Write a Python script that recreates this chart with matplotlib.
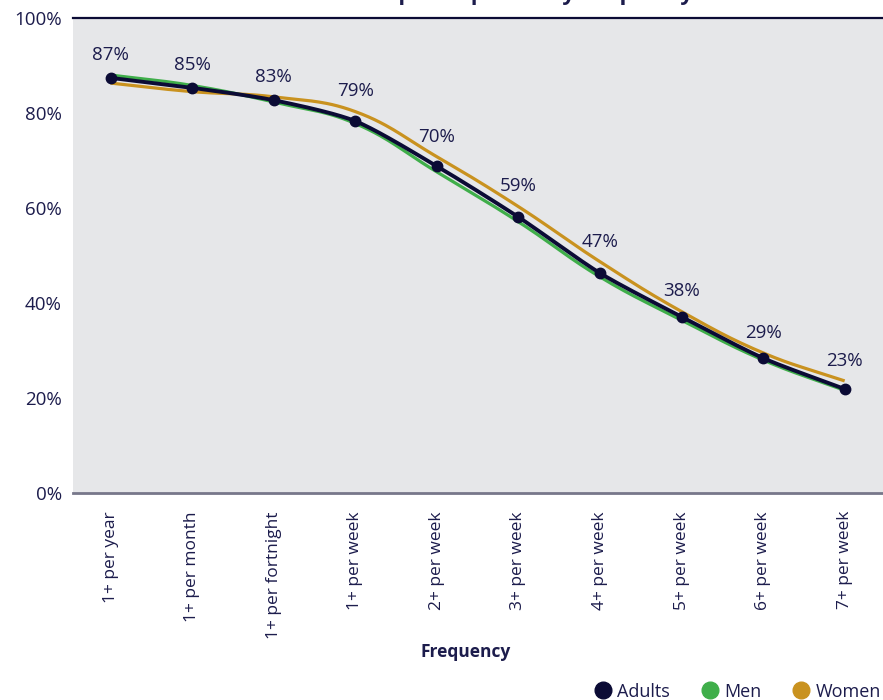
import numpy as np
import matplotlib
matplotlib.use("Agg")
import matplotlib.pyplot as plt
from matplotlib.lines import Line2D

categories = ["1+ per year", "1+ per month", "1+ per fortnight", "1+ per week",
              "2+ per week", "3+ per week", "4+ per week", "5+ per week",
              "6+ per week", "7+ per week"]
adults = [87.4, 85.3, 82.7, 78.3, 68.8, 58.1, 46.3, 37.1, 28.4, 21.9]
men = [88.0, 85.8, 82.3, 77.8, 67.6, 57.1, 45.5, 36.4, 28.0, 21.6]
women = [86.3, 84.5, 83.4, 80.3, 70.8, 60.3, 48.7, 38.2, 29.5, 23.6]
point_labels = ["87%", "85%", "83%", "79%", "70%", "59%", "47%", "38%", "29%", "23%"]

NAVY = "#0b0b35"
GREEN = "#3fae4a"
GOLD = "#c9921f"
TEXT = "#1c1c4c"

plt.rcParams["font.family"] = ["Open Sans", "DejaVu Sans"]


def smooth(xs, ys, tension=0.4, sx=81.7, sy=4.75, n=30):
    # bezier spline like chart.js, distances measured in pixel units
    px = np.asarray(xs, float) * sx
    py = np.asarray(ys, float) * sy
    m = len(px)
    cp_prev = np.zeros((m, 2))
    cp_next = np.zeros((m, 2))
    for i in range(m):
        cur = np.array([px[i], py[i]])
        prev = np.array([px[max(i - 1, 0)], py[max(i - 1, 0)]])
        nxt = np.array([px[min(i + 1, m - 1)], py[min(i + 1, m - 1)]])
        d01 = np.hypot(*(cur - prev))
        d12 = np.hypot(*(nxt - cur))
        tot = d01 + d12
        s01 = d01 / tot if tot else 0
        s12 = d12 / tot if tot else 0
        cp_prev[i] = cur - tension * s01 * (nxt - prev)
        cp_next[i] = cur + tension * s12 * (nxt - prev)
    out_x, out_y = [], []
    t = np.linspace(0, 1, n)
    for i in range(m - 1):
        p0 = np.array([px[i], py[i]])
        p3 = np.array([px[i + 1], py[i + 1]])
        p1, p2 = cp_next[i], cp_prev[i + 1]
        b = ((1 - t) ** 3)[:, None] * p0 + (3 * (1 - t) ** 2 * t)[:, None] * p1 \
            + (3 * (1 - t) * t ** 2)[:, None] * p2 + (t ** 3)[:, None] * p3
        out_x.extend(b[:, 0] / sx)
        out_y.extend(b[:, 1] / sy)
    return np.array(out_x), np.array(out_y)


fig = plt.figure(figsize=(8.83, 7.0), dpi=100)
ax = fig.add_axes([73 / 883, 1 - 493 / 700, 1 - 73 / 883, 475 / 700])
ax.set_facecolor("#e6e7e9")

x = np.arange(len(categories))
wx, wy = smooth(x, women)
mx, my = smooth(x, men)
ax_, ay_ = smooth(x, adults, tension=0.25)
ax.plot(wx, wy, color=GOLD, lw=2.3, zorder=2, solid_capstyle="butt")
ax.plot(mx, my, color=GREEN, lw=2.3, zorder=3, solid_capstyle="butt")
ax.plot(ax_, ay_, color=NAVY, lw=2.8, zorder=4, solid_capstyle="butt")
ax.plot(x, adults, "o", color=NAVY, ms=7.5, zorder=5)

for i, lab in enumerate(point_labels):
    top = max(adults[i], men[i], women[i])
    ax.annotate(lab, (x[i], top), xytext=(0, 14.5), textcoords="offset points",
                ha="center", va="center", fontsize=13.5, color=TEXT, zorder=6)

ax.set_xlim(-0.46, 9.47)
ax.set_ylim(0, 100)
ax.set_yticks([0, 20, 40, 60, 80, 100])
ax.set_yticklabels([f"{v}%" for v in [0, 20, 40, 60, 80, 100]])
ax.set_xticks(x)
ax.set_xticklabels(categories, rotation=90)
ax.tick_params(axis="both", length=0, labelsize=13.5, colors=TEXT)
ax.tick_params(axis="x", pad=13, labelsize=12.5)
ax.tick_params(axis="y", pad=8)

for side in ["left", "right"]:
    ax.spines[side].set_visible(False)
ax.spines["top"].set_color(NAVY)
ax.spines["top"].set_linewidth(1.6)
ax.spines["bottom"].set_color("#77778a")
ax.spines["bottom"].set_linewidth(2)

ax.set_xlabel("Frequency", fontsize=12.5, fontweight="bold", color=TEXT, va="center")
ax.xaxis.set_label_coords(0.485, -0.335)

# title sits above the canvas in the original, only its descenders show
fig.text(0.58, 1.0, "Adult participation by frequency", ha="center",
         va="baseline", fontsize=16, fontweight="bold", color=TEXT)

handles = [Line2D([], [], marker="o", ls="none", color=c, ms=12)
           for c in [NAVY, GREEN, GOLD]]
fig.legend(handles, ["Adults", "Men", "Women"], loc="lower right",
           bbox_to_anchor=(1.016, -0.024), ncol=3, frameon=False, fontsize=13,
           handletextpad=-0.2, columnspacing=1.2, labelcolor=TEXT)

fig.savefig("out.png", dpi=100)
